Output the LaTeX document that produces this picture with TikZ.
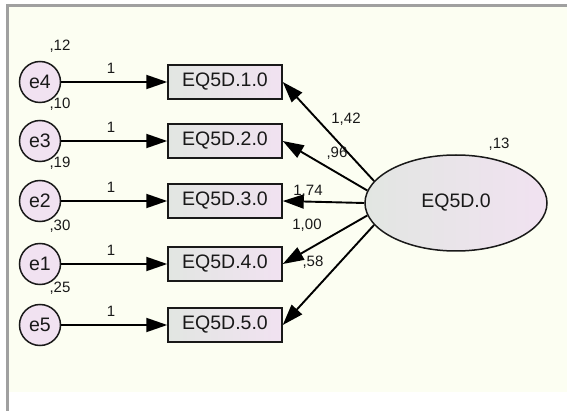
\documentclass[tikz,border=0pt]{standalone}
\usepackage{fontspec}
\setmainfont{Liberation Sans}
\usetikzlibrary{arrows.meta,positioning,shapes}

\definecolor{paper}{RGB}{252,254,242}
\definecolor{frame}{RGB}{160,160,160}
\definecolor{lilac}{RGB}{241,226,241}
\definecolor{sage}{RGB}{226,230,226}
\definecolor{ink}{RGB}{25,25,25}

\begin{document}
\begin{tikzpicture}[->,x=1pt,y=-1pt,line width=1.9pt,node distance=185pt,
  >={Triangle[length=21pt,width=14pt]}]

\tikzstyle{err}=[circle,draw=ink,line width=1.5pt,fill=lilac,minimum size=41pt,inner sep=0pt,text=ink,font=\fontsize{19.5}{21}\selectfont]
\tikzstyle{obs}=[rectangle,draw=ink,line width=1.5pt,left color=sage,right color=lilac,minimum width=114pt,minimum height=34pt,inner sep=0pt,text=ink,font=\fontsize{19.5}{21}\selectfont]
\tikzstyle{lat}=[ellipse,draw=ink,line width=1.5pt,left color=sage,right color=lilac,minimum width=182pt,minimum height=96pt,inner sep=0pt,text=ink,font=\fontsize{19.5}{21}\selectfont]
\tikzstyle{lab}=[inner sep=0pt,text=ink,font=\fontsize{15}{17}\selectfont]

\useasboundingbox (0,0) rectangle (567,411);

%sheet
\fill [paper] (8,7) rectangle (567,392);
\draw [-,frame,line width=3pt] (6,5.8) -- (567,5.8);
\draw [-,frame,line width=2.7pt] (7.3,4.3) -- (7.3,411);

%error terms
\node [err] (e4) at (40,82) {e4};
\node [err] (e3) at (40,141) {e3};
\node [err] (e2) at (40,201) {e2};
\node [err] (e1) at (40,264) {e1};
\node [err] (e5) at (40,325) {e5};

\node [lab] (v4) at (60,46) {,12};
\node [lab] (v3) at (60,104) {,10};
\node [lab] (v2) at (60,163) {,19};
\node [lab] (v1) at (60,226) {,30};
\node [lab] (v5) at (60,288) {,25};

%indicators
\node [obs] (x1) [right of=e4] {EQ5D.1.0};
\node [obs] (x2) [right of=e3] {EQ5D.2.0};
\node [obs] (x3) [right of=e2] {EQ5D.3.0};
\node [obs] (x4) [right of=e1] {EQ5D.4.0};
\node [obs] (x5) [right of=e5] {EQ5D.5.0};

\path (e4) edge node[lab,above=8pt,pos=0.47] {1} (x1)
      (e3) edge node[lab,above=8pt,pos=0.47] {1} (x2)
      (e2) edge node[lab,above=8pt,pos=0.47] {1} (x3)
      (e1) edge node[lab,above=8pt,pos=0.47] {1} (x4)
      (e5) edge node[lab,above=8pt,pos=0.47] {1} (x5);

%factor
\node [lat] (eq) at (456,203) {EQ5D.0};
\node [lab] (v0) at (499,144) {,13};

\path (eq.165) edge (x1.east)
      (eq.172) edge (x2.east)
      (eq.180) edge (x3.east)
      (eq.188) edge (x4.east)
      (eq.195) edge (x5.east);

\node [lab] (w1) at (346,119) {1,42};
\node [lab] (w2) at (337,153) {,96};
\node [lab] (w3) at (308,191) {1,74};
\node [lab] (w4) at (307,225) {1,00};
\node [lab] (w5) at (313,262) {,58};

\end{tikzpicture}
\end{document}
